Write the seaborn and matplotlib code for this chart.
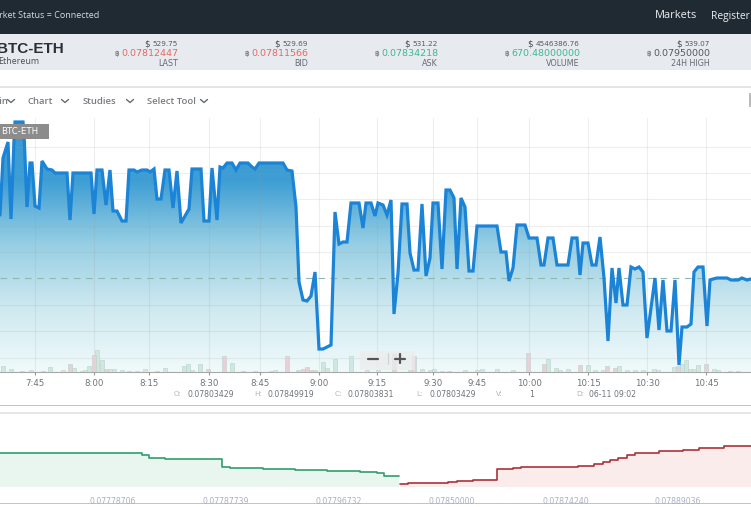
import numpy as np
import pandas as pd
import seaborn as sns
import matplotlib
matplotlib.use("Agg")
import matplotlib.pyplot as plt
from matplotlib.colors import LinearSegmentedColormap
from matplotlib.patches import Rectangle

W, H = 751, 507

# price line, the axis is ordinal so x is a slot and not a real time
line_slot = [0, 3, 8, 11, 14, 15, 23, 24, 27, 30, 32, 35, 39, 42, 47, 52, 55, 67, 70, 73, 91, 94, 97, 102, 106, 110,
             113, 117, 122, 126, 129, 134, 137, 142, 147, 150, 154, 157, 161, 165, 169, 173, 177, 181, 189, 192, 201,
             204, 209, 212, 217, 220, 223, 227, 232, 236, 240, 248, 252, 255, 259, 283, 287, 292, 296, 299, 303, 307,
             311, 315, 319, 323, 331, 335, 339, 343, 347, 351, 359, 363, 366, 371, 375, 378, 383, 387, 391, 394, 398,
             402, 407, 410, 414, 418, 422, 426, 430, 433, 438, 442, 446, 450, 454, 457, 461, 465, 469, 473, 477, 497,
             501, 506, 509, 513, 517, 525, 529, 537, 541, 544, 548, 553, 557, 568, 572, 577, 580, 583, 588, 592, 596,
             600, 604, 608, 612, 616, 619, 623, 627, 631, 635, 639, 643, 647, 655, 659, 663, 667, 671, 675, 679, 682,
             687, 691, 694, 698, 703, 707, 710, 713, 717, 727, 731, 738, 742, 747, 751]
line_price = [7875, 7932, 7948, 7871, 7950, 7968, 7968, 7957, 7883, 7927, 7927, 7884, 7882, 7929, 7921, 7920, 7917,
              7917, 7870, 7917, 7917, 7876, 7920, 7920, 7885, 7920, 7879, 7879, 7869, 7869, 7920, 7920, 7918, 7920,
              7920, 7918, 7921, 7891, 7891, 7920, 7920, 7882, 7919, 7867, 7881, 7921, 7921, 7869, 7869, 7922, 7870,
              7923, 7922, 7927, 7927, 7920, 7927, 7927, 7923, 7921, 7927, 7927, 7920, 7919, 7883, 7808, 7790, 7789,
              7794, 7818, 7741, 7741, 7745, 7878, 7846, 7848, 7848, 7887, 7887, 7862, 7887, 7887, 7874, 7887, 7885,
              7875, 7890, 7776, 7817, 7886, 7886, 7837, 7820, 7820, 7886, 7814, 7832, 7887, 7887, 7821, 7900, 7900,
              7892, 7821, 7892, 7883, 7819, 7819, 7864, 7864, 7838, 7838, 7809, 7822, 7865, 7865, 7852, 7852, 7825,
              7825, 7852, 7852, 7825, 7825, 7852, 7852, 7815, 7847, 7847, 7825, 7825, 7853, 7812, 7749, 7822, 7787,
              7822, 7785, 7785, 7823, 7821, 7823, 7818, 7752, 7812, 7760, 7810, 7759, 7759, 7810, 7725, 7763, 7763,
              7766, 7818, 7823, 7823, 7764, 7810, 7811, 7812, 7812, 7810, 7810, 7812, 7810, 7811]
last_price = 7812
grid_prices = [7943, 7917, 7891, 7864, 7838, 7785, 7759, 7732]

time_slots = [35, 94, 149, 209, 260, 319, 377, 433, 477, 529, 588, 647, 706]
time_labels = ["7:45", "8:00", "8:15", "8:30", "8:45", "9:00", "9:15", "9:30", "9:45", "10:00", "10:15", "10:30", "10:45"]

# volume bars, g = up, r = down
vol_slot = [3, 11, 22, 31, 43, 50, 63, 70, 74, 82, 85, 89, 94, 97, 102, 106, 110, 114, 122, 129, 137, 145, 157, 165,
            184, 188, 192, 200, 208, 224, 232, 243, 255, 271, 275, 287, 298, 303, 307, 311, 315, 323, 327, 335, 351,
            367, 378, 394, 410, 414, 422, 430, 434, 442, 449, 465, 477, 482, 497, 513, 528, 544, 548, 556, 560, 568,
            580, 588, 595, 603, 607, 615, 619, 627, 635, 643, 654, 658, 674, 678, 682, 686, 690, 694, 698, 706, 714,
            718, 730, 738]
vol_size = [6, 3, 1, 2, 1, 5, 2, 8, 4, 1, 2, 6, 17, 22, 12, 3, 3, 3, 2, 1, 1, 3, 1, 4,
            6, 8, 2, 8, 3, 16, 9, 1, 1, 1, 2, 16, 2, 3, 5, 2, 2, 10, 4, 13, 16,
            2, 2, 18, 2, 16, 3, 2, 3, 1, 1, 2, 2, 3, 3, 2, 19, 8, 13, 4, 2, 3,
            7, 7, 2, 2, 6, 4, 6, 2, 2, 2, 3, 2, 5, 6, 8, 12, 3, 3, 7, 8, 3,
            2, 1, 1]
vol_side = list("gggggggrggggrggrgggggggg" "ggggrrgggggrrrrrrgggg" "ggrrrggggggggggrrgggg"
                "rgggrrgggggggrgggggrg" "ggg")

# order book depth
bid_slot = [0, 142, 149, 165, 222, 230, 263, 295, 303, 327, 343, 360, 377, 384, 399]
bid_depth = [34, 32, 29, 28, 20, 19, 18, 17.5, 17, 16.3, 16, 15, 14, 11, 11]
ask_slot = [400, 408, 448, 457, 473, 497, 513, 521, 578, 594, 603, 610, 618, 627, 635, 659, 683, 699, 724, 751]
ask_depth = [2.7, 3.7, 4.7, 6, 7, 17.7, 19, 20, 21.3, 23, 25.3, 27, 29, 32, 34.3, 36, 37, 38.7, 41, 41]
depth_slots = [113, 226, 339, 452, 566, 678]
depth_labels = ["0.07778706", "0.07787739", "0.07796732", "0.07850000", "0.07874240", "0.07889036"]

stat_right = [178, 308, 438, 580, 710]
stat_usd = ["529.75", "529.69", "531.22", "4546386.76", "539.07"]
stat_btc = ["0.07812447", "0.07811566", "0.07834218", "670.48000000", "0.07950000"]
stat_name = ["LAST", "BID", "ASK", "VOLUME", "24H HIGH"]
stat_color = ["#e8695f", "#e8695f", "#3cb98f", "#3cb98f", "#555b61"]

ohlc_name_x = [174, 254, 335, 416, 496, 576]
ohlc_value_x = [188, 268, 348, 429, 529, 589]
ohlc_names = ["O:", "H:", "C:", "L:", "V:", "D:"]
ohlc_values = ["0.07803429", "0.07849919", "0.07803831", "0.07803429", "1", "06-11 09:02"]

sns.set_theme(style="white")
plt.rcParams["font.family"] = ["DejaVu Sans"]

fig = plt.figure(figsize=(W / 100, H / 100), dpi=100, facecolor="white")


def px_axes(x0, y0, x1, y1, **kw):
    return fig.add_axes([x0 / W, 1 - y1 / H, (x1 - x0) / W, (y1 - y0) / H], **kw)


# page furniture, in pixels
page = px_axes(0, 0, W, H)
page.set_xlim(0, W)
page.set_ylim(H, 0)
page.axis("off")
page.add_patch(Rectangle((0, 0), W, 34, color="#1f2a33", lw=0))
page.add_patch(Rectangle((0, 34), W, 36, color="#e7eaef", lw=0))
page.add_patch(Rectangle((0, 86), W, 1.5, color="#e4e4e4", lw=0))
page.add_patch(Rectangle((0, 405), W, 1, color="#c4c4c4", lw=0))
page.add_patch(Rectangle((0, 412), W, 1.5, color="#e6e6e6", lw=0))
page.add_patch(Rectangle((0, 503), W, 1, color="#c4c4c4", lw=0))
page.add_patch(Rectangle((749, 93), 2, 14, color="#bbbbbb", lw=0))

page.text(99, 16, "Market Status = Connected", color="#d6dade", fontsize=6.5, ha="right", va="center", family="Open Sans")
page.text(697, 16, "Markets", color="#eef0f2", fontsize=7.9, ha="right", va="center", family="Open Sans")
page.text(711, 16, "Register", color="#eef0f2", fontsize=7.4, ha="left", va="center", family="Open Sans")
page.text(64, 49, "BTC-ETH", color="#2b3036", fontsize=11, weight="bold", ha="right", va="center", family="Liberation Sans")
page.text(39, 61, "Ethereum", color="#4a5057", fontsize=6.4, ha="right", va="center", family="Open Sans")

for x, usd, btc, name, col in zip(stat_right, stat_usd, stat_btc, stat_name, stat_color):
    u = page.text(x, 44, usd, color="#555b61", fontsize=5.2, ha="right", va="center")
    page.text(u.get_window_extent(fig.canvas.get_renderer()).x0 - 3, 43.5, "\\$", color="#444a50", fontsize=6.2,
              ha="right", va="center")
    t = page.text(x, 53.5, btc, color=col, fontsize=6.8, ha="right", va="center")
    bb = t.get_window_extent(fig.canvas.get_renderer())
    page.text(bb.x0 - 2, 53.5, "฿", color="#555b61", fontsize=5.2, ha="right", va="center")
    page.text(x, 63, name, color="#666c72", fontsize=5.8, ha="right", va="center")

for label, x0, chev in [("Main", 8, 11), ("Chart", 28, 65), ("Studies", 83, 130), ("Select Tool", 147, 204)]:
    page.text(x0, 101, label, color="#777c82", fontsize=6.8, va="center",
              ha="left" if label != "Main" else "right", family="Open Sans", weight="semibold")
    page.plot([chev - 3.5, chev, chev + 3.5], [99.5, 102.5, 99.5], color="#666c72", lw=1)

for nx, vx, name, val in zip(ohlc_name_x, ohlc_value_x, ohlc_names, ohlc_values):
    page.text(nx, 394.5, name, color="#b0b4b8", fontsize=5.2, ha="left", va="center")
    page.text(vx, 394.5, val, color="#6f7479", fontsize=5.6, ha="left", va="center")

# price chart: gradient and grid at the back
ax = px_axes(0, 118, W, 372)
ax.patch.set_alpha(0)
y_low, y_high = 7718 / 1e5, 7972 / 1e5
prices = pd.DataFrame({"slot": line_slot, "price": np.array(line_price) / 1e5})

shade = LinearSegmentedColormap.from_list("shade", ["#3a97d1", "#3f9fd4", "#98cfe4", "#cfe9f0", "#f0fafb"])
under = ax.fill_between(prices["slot"], prices["price"], y_low, color="none", lw=0)
grad = ax.imshow(np.linspace(0, 1, 256).reshape(-1, 1), cmap=shade, aspect="auto", origin="upper",
                 extent=(0, W, y_low, y_high), zorder=1)
grad.set_clip_path(under.get_paths()[0], transform=ax.transData)
ax.set_xlim(0, W)
ax.set_ylim(y_low, y_high)

ax.set_yticks(np.array(grid_prices) / 1e5)
ax.set_xticks(time_slots)
ax.set_xticklabels(time_labels, fontsize=6.2, color="#6f7479")
ax.tick_params(axis="y", length=0, labelleft=False)
ax.tick_params(axis="x", length=2.5, width=0.8, color="#999999", pad=2.5, bottom=True)
ax.grid(True, color="#9a9a9a", alpha=0.16, lw=0.8, zorder=2)
ax.set_axisbelow(False)
sns.despine(ax=ax, left=True, right=True, top=True, bottom=False)
ax.spines["bottom"].set_color("#a8a8a8")
ax.spines["bottom"].set_linewidth(0.8)

# volume shares the same box on its own scale
vol = ax.twinx()
vol.patch.set_alpha(0)
volumes = pd.DataFrame({"slot": vol_slot, "size": vol_size, "side": vol_side})
sns.barplot(data=volumes, x="slot", y="size", hue="side", dodge=False, native_scale=True, width=1.25, saturation=1,
            palette={"g": "#cde8df", "r": "#ebcfd6"}, edgecolor="#bcd2cb", linewidth=0.4, legend=False, ax=vol)
vol.set_xlim(0, W)
vol.set_ylim(0, 254)
vol.set_yticks([])
vol.set_xlabel("")
vol.set_ylabel("")
vol.grid(False)
vol.tick_params(axis="x", bottom=False, labelbottom=False)
sns.despine(ax=vol, left=True, right=True, top=True, bottom=True)

# price line on top of the bars
top = ax.twinx()
top.patch.set_alpha(0)
top.axhline(last_price / 1e5, color="#8fb8ae", lw=0.8, ls=(0, (6, 5)))
sns.lineplot(data=prices, x="slot", y="price", color="#1b84d6", lw=2.3, solid_joinstyle="miter", ax=top,
             estimator=None, sort=False)
top.set_xlim(0, W)
top.set_ylim(y_low, y_high)
top.set_yticks([])
top.set_xlabel("")
top.set_ylabel("")
top.grid(False)
top.tick_params(axis="x", bottom=False, labelbottom=False)
sns.despine(ax=top, left=True, right=True, top=True, bottom=True)

# overlays on the chart
over = px_axes(0, 0, W, H)
over.set_zorder(10)
over.set_xlim(0, W)
over.set_ylim(H, 0)
over.axis("off")
over.add_patch(Rectangle((0, 124), 49, 15, color="#8c8c8c", lw=0))
over.text(1, 131.5, "BTC-ETH", color="white", fontsize=6.2, va="center")
over.add_patch(Rectangle((360, 351), 55, 19, color="#ececec", alpha=0.75, lw=0))
over.plot([368, 378], [358.5, 358.5], color="#555555", lw=1.6)
over.plot([395, 405], [358.5, 358.5], color="#555555", lw=1.6)
over.plot([400, 400], [354, 363], color="#555555", lw=1.6)
over.plot([388, 388], [353, 364], color="#d0d0d0", lw=0.8)

# depth chart
depth = px_axes(0, 415, W, 487)
depth.patch.set_alpha(0)
depth.set_xlim(0, W)
depth.fill_between(bid_slot, bid_depth, 0, step="post", color="#e9f6ef", lw=0)
depth.fill_between(ask_slot, ask_depth, 0, step="post", color="#faecea", lw=0)
sns.lineplot(x=bid_slot, y=bid_depth, drawstyle="steps-post", color="#2f9e70", lw=1.2, ax=depth, estimator=None, sort=False)
sns.lineplot(x=ask_slot, y=ask_depth, drawstyle="steps-post", color="#a8333a", lw=1.2, ax=depth, estimator=None, sort=False)
depth.set_ylim(0, 72)
depth.set_yticks([])
depth.set_xticks(depth_slots)
depth.set_xticklabels(depth_labels, fontsize=5.6, color="#a9b0c4")
depth.tick_params(axis="x", length=0, pad=7)
depth.set_xlabel("")
depth.set_ylabel("")
sns.despine(ax=depth, left=True, right=True, top=True, bottom=True)

fig.savefig("out.png", dpi=100)
